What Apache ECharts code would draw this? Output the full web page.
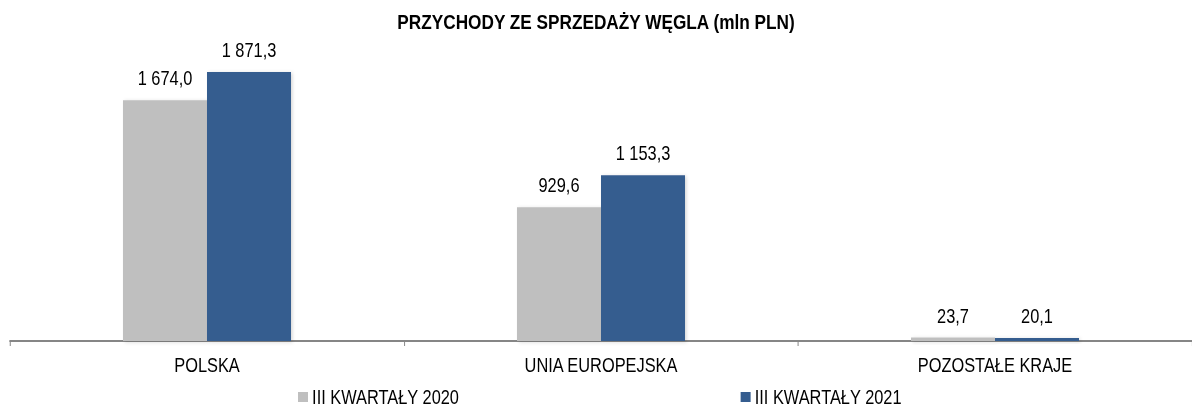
<!DOCTYPE html>
<html><head><meta charset="utf-8">
<script src="https://cdn.jsdelivr.net/npm/echarts@6/dist/echarts.min.js"></script>
<style>
html,body{margin:0;padding:0;background:#fff;overflow:hidden;width:1192px;height:407px}
#c{width:1454px;height:407px;transform:scaleX(0.81981);transform-origin:0 0}
</style>
</head><body><div id="c"></div>
<script>
const categories = ['POLSKA', 'UNIA EUROPEJSKA', 'POZOSTAŁE KRAJE'];
const seriesNames = ['III KWARTAŁY 2020', 'III KWARTAŁY 2021'];
const values2020 = [1674.0, 929.6, 23.7];
const values2021 = [1871.3, 1153.3, 20.1];

// Horizontal condensation factor (emulates a narrow typeface)
const S = 1192 / 1454;
const X = v => v / S;
const FONT = '"Liberation Sans", Arial, sans-serif';
function fmt(v){
  const parts = v.toFixed(1).split('.');
  const intp = parts[0].replace(/\B(?=(\d{3})+(?!\d))/g, ' ');
  return intp + ',' + parts[1];
}
const chart = echarts.init(document.getElementById('c'), null, {renderer:'svg'});
const lbl = {show:true, position:'top', distance:12, color:'#000', fontFamily:FONT, fontSize:20, formatter:p=>fmt(p.value)};
chart.setOption({
  animation:false,
  title:{text:'PRZYCHODY ZE SPRZEDAŻY WĘGLA (mln PLN)', left:'center', top:11, padding:0,
    textStyle:{fontFamily:FONT, fontSize:21, fontWeight:'bold', color:'#000'}},
  legend:{top:387, left:X(298), padding:0, itemGap:343, itemWidth:X(10), itemHeight:10, icon:'rect',
    textStyle:{fontFamily:FONT, fontSize:20, lineHeight:16, color:'#000'}, data:seriesNames},
  grid:{left:X(10), top:39, width:X(1189), height:302},
  xAxis:{type:'category', data:categories,
    axisLine:{lineStyle:{color:'#868686', width:2}},
    axisTick:{show:true, length:5, lineStyle:{color:'#868686', width:1.2}},
    axisLabel:{fontFamily:FONT, fontSize:20, color:'#000', margin:14}},
  yAxis:{type:'value', min:0, max:2100, show:false, splitLine:{show:false}},
  series:[
    {name:seriesNames[0], type:'bar', data:values2020, barWidth:X(84), barGap:'0%',
     itemStyle:{color:'#BFBFBF', shadowColor:'rgba(0,0,0,0.15)', shadowBlur:4, shadowOffsetX:2, shadowOffsetY:1}, label:lbl},
    {name:seriesNames[1], type:'bar', data:values2021, barWidth:X(84), barGap:'0%',
     itemStyle:{color:'#355D8F', shadowColor:'rgba(0,0,0,0.15)', shadowBlur:4, shadowOffsetX:2, shadowOffsetY:1}, label:lbl}
  ]
});
</script></body></html>
